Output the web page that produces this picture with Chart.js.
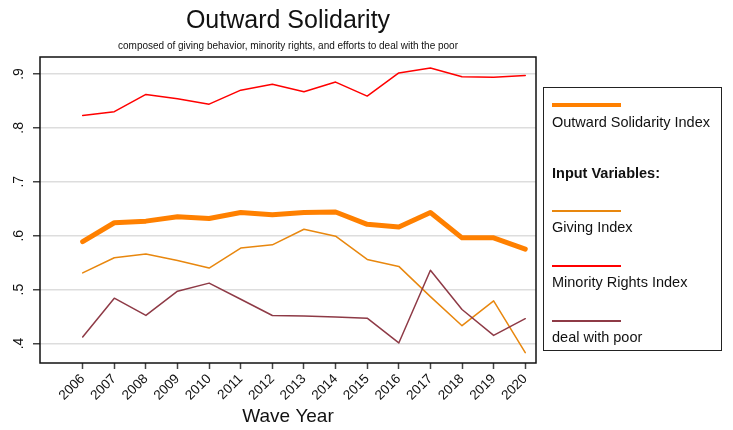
<!DOCTYPE html>
<html lang="en">
<head>
    <meta charset="UTF-8">
    <title>Outward Solidarity</title>
    <style>
        body { margin: 0; background: #fff; font-family: Arial, "Liberation Sans", sans-serif; }
        .wrap { position: relative; width: 733px; height: 430px; }
        .legend-box {
            position: absolute; left: 543px; top: 87px; width: 179px; height: 264px;
            border: 1px solid #222; box-sizing: border-box; font-size: 14.5px; color: #111;
        }
        .legend-box .ln { position: absolute; left: 8px; width: 69px; }
        .legend-box .tx { position: absolute; left: 8px; white-space: nowrap; line-height: 16px; }
    </style>
</head>
<body>
<div class="wrap">
    <canvas id="myChart" width="733" height="430"></canvas>

    <!-- legenda ao lado -->
    <div class="legend-box">
        <div class="ln" style="top:15px;height:4px;background:#ff8000"></div>
        <div class="tx" style="top:26px">Outward Solidarity Index</div>
        <div class="tx" style="top:77px;font-weight:bold">Input Variables:</div>
        <div class="ln" style="top:122px;height:2px;background:#e8870e"></div>
        <div class="tx" style="top:131px">Giving Index</div>
        <div class="ln" style="top:177px;height:2px;background:#ff0000"></div>
        <div class="tx" style="top:186px">Minority Rights Index</div>
        <div class="ln" style="top:232px;height:2px;background:#8e3a46"></div>
        <div class="tx" style="top:241px">deal with poor</div>
    </div>
</div>

<script src="https://cdn.jsdelivr.net/npm/chart.js"></script>
<script>
    // dados
    const years = [2006, 2007, 2008, 2009, 2010, 2011, 2012, 2013, 2014, 2015, 2016, 2017, 2018, 2019, 2020];
    const outwardIndex = [0.589, 0.624, 0.627, 0.635, 0.632, 0.643, 0.639, 0.643, 0.644, 0.621, 0.616, 0.643, 0.596, 0.596, 0.575];
    const givingIndex = [0.531, 0.559, 0.566, 0.554, 0.540, 0.577, 0.583, 0.612, 0.599, 0.556, 0.543, 0.487, 0.433, 0.479, 0.383];
    const minorityIndex = [0.823, 0.830, 0.862, 0.854, 0.844, 0.870, 0.881, 0.867, 0.885, 0.859, 0.902, 0.911, 0.895, 0.894, 0.897];
    const dealWithPoor = [0.412, 0.484, 0.452, 0.497, 0.512, 0.482, 0.452, 0.451, 0.449, 0.447, 0.401, 0.536, 0.463, 0.415, 0.446];
    const yTicks = [0.4, 0.5, 0.6, 0.7, 0.8, 0.9];

    const pts = arr => arr.map((v, i) => ({ x: years[i], y: v }));

    // titulo, subtitulo e moldura
    const extras = {
        id: 'extras',
        afterDraw(chart) {
            const { ctx, chartArea: a } = chart;
            ctx.save();
            ctx.strokeStyle = '#111';
            ctx.lineWidth = 1.5;
            ctx.strokeRect(a.left, a.top, a.right - a.left, a.bottom - a.top);
            const cx = (a.left + a.right) / 2;
            ctx.fillStyle = '#111';
            ctx.textAlign = 'center';
            ctx.textBaseline = 'middle';
            ctx.font = '25px Arial, "Liberation Sans"';
            ctx.fillText('Outward Solidarity', cx, 21);
            ctx.font = '10px Arial, "Liberation Sans"';
            ctx.fillText('composed of giving behavior, minority rights, and efforts to deal with the poor', cx, 46);
            // rotulos do eixo y
            const ys = chart.scales.y;
            ctx.font = '14px Arial, "Liberation Sans"';
            ys.ticks.forEach(t => {
                const py = ys.getPixelForValue(t.value);
                ctx.save();
                ctx.translate(19, py);
                ctx.rotate(-Math.PI / 2);
                ctx.fillText(String(t.value).replace(/^0/, ''), 0, 0);
                ctx.restore();
            });
            ctx.restore();
        }
    };

    const ctx = document.getElementById('myChart');
    new Chart(ctx, {
        type: 'line',
        data: {
            datasets: [
                { label: 'Minority Rights Index', data: pts(minorityIndex), borderColor: '#ff0000', borderWidth: 1.5 },
                { label: 'deal with poor', data: pts(dealWithPoor), borderColor: '#8e3a46', borderWidth: 1.5 },
                { label: 'Giving Index', data: pts(givingIndex), borderColor: '#e8870e', borderWidth: 1.5 },
                { label: 'Outward Solidarity Index', data: pts(outwardIndex), borderColor: '#ff8000', borderWidth: 5 }
            ]
        },
        options: {
            responsive: false,
            animation: false,
            layout: { padding: { top: 57, right: 197, left: 0, bottom: 0 } },
            elements: { point: { radius: 0 }, line: { tension: 0, borderCapStyle: 'round', borderJoinStyle: 'round' } },
            plugins: { legend: { display: false }, tooltip: { enabled: false } },
            scales: {
                x: {
                    type: 'linear',
                    min: 2004.65,
                    max: 2020.34,
                    afterBuildTicks: s => { s.ticks = years.map(v => ({ value: v })); },
                    afterFit: s => { s.height = 67; },
                    ticks: {
                        autoSkip: false, minRotation: 45, maxRotation: 45, padding: 2,
                        color: '#111', font: { size: 13.5, family: 'Arial, "Liberation Sans"' },
                        callback: v => String(v)
                    },
                    grid: { drawOnChartArea: false, drawTicks: true, tickLength: 6, tickColor: '#444', tickWidth: 1.5 },
                    border: { display: false },
                    title: {
                        display: true, text: 'Wave Year', color: '#111',
                        font: { size: 19, family: 'Arial, "Liberation Sans"' },
                        padding: { top: 0, bottom: 2 }
                    }
                },
                y: {
                    min: 0.3638,
                    max: 0.9315,
                    afterBuildTicks: s => { s.ticks = yTicks.map(v => ({ value: v })); },
                    afterFit: s => { s.width = 40; },
                    ticks: { display: false },
                    grid: { color: '#dddddd', lineWidth: 1.5, tickLength: 7, tickColor: '#444', tickWidth: 1.5 },
                    border: { display: false }
                }
            }
        },
        plugins: [extras]
    });
</script>
</body>
</html>
